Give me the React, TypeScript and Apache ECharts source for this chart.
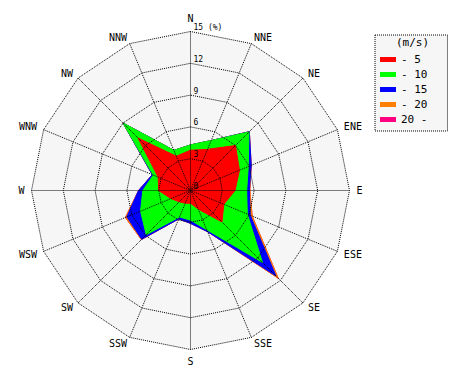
import React, { useEffect, useRef } from "react";
import * as echarts from "echarts";

const directions = ["N", "NNE", "NE", "ENE", "E", "ESE", "SE", "SSE", "S", "SSW", "SW", "WSW", "W", "WNW", "NW", "NNW"];
const speedClasses = ["- 5", "- 10", "- 15", "- 20", "20 -"];
const classColors = ["#ff0000", "#00ff00", "#0000ff", "#ff8000", "#ff0080"];
const radialTicks = [0, 3, 6, 9, 12, 15];

// frequency (%) per speed class, per direction (N, NNE, ... NNW)
const speed5 = [3.8, 4.2, 6.0, 5.0, 4.2, 3.4, 4.2, 1.9, 1.2, 1.3, 1.5, 2.0, 3.0, 3.3, 7.0, 3.5];
const speed10 = [0.5, 0.9, 1.8, 0.9, 1.1, 2.4, 5.4, 2.1, 1.6, 1.4, 4.4, 3.1, 1.5, 0.5, 2.0, 0.6];
const speed15 = [0.0, 0.0, 0.05, 0.3, 0.25, 0.3, 1.8, 0.2, 0.3, 0.2, 0.6, 1.4, 0.4, 0.1, 0.0, 0.0];
const speed20 = [0.0, 0.0, 0.0, 0.0, 0.05, 0.2, 0.3, 0.0, 0.0, 0.0, 0.05, 0.15, 0.0, 0.0, 0.0, 0.0];
const speed20plus = [0, 0, 0, 0, 0, 0, 0, 0, 0, 0, 0, 0, 0, 0, 0, 0];

const classValues = [speed5, speed10, speed15, speed20, speed20plus];

export default function App() {
  const ref = useRef<HTMLDivElement>(null);
  useEffect(() => {
    if (!ref.current) return;
    const chart = echarts.init(ref.current, undefined, { renderer: "svg" });
    const n = directions.length;
    // radar places indicators counter-clockwise; reorder so compass runs clockwise
    const order = [0];
    for (let i = n - 1; i >= 1; i--) order.push(i);

    const cumulative = classValues.map((_, k) =>
      directions.map((_, i) => {
        let s = 0;
        for (let j = 0; j <= k; j++) s += classValues[j][i];
        return +s.toFixed(3);
      })
    );

    const maxTick = radialTicks[radialTicks.length - 1];
    const font = "DejaVu Sans Mono";
    const makeIndicator = (withLabels: boolean) =>
      order.map((i, idx) => ({
        name: directions[i],
        min: radialTicks[0],
        max: maxTick,
        ...(withLabels && idx === 0
          ? {
              axisLabel: {
                show: true,
                color: "#000",
                fontSize: 8,
                fontFamily: font,
                margin: -3,
                align: "left",
                verticalAlign: "bottom",
                formatter: (v: number) => (v === maxTick ? v + " (%)" : String(v)),
              },
            }
          : {}),
      }));

    const dataItems = classValues
      .map((_, k) => ({
        name: speedClasses[k],
        value: order.map((i) => cumulative[k][i]),
        itemStyle: { color: classColors[k] },
        lineStyle: { color: classColors[k], width: 1 },
        areaStyle: { color: classColors[k], opacity: 1 },
        symbol: "none",
      }))
      .reverse();

    const center = [182.5, 182.5];
    const dotted = { color: "#000", type: [1, 1], width: 1 };

    chart.setOption({
      animation: false,
      title: {
        text: "(m/s)",
        left: 388,
        top: 29,
        padding: 0,
        textStyle: { fontSize: 11, fontWeight: "normal", fontFamily: font, color: "#000" },
      },
      legend: {
        data: speedClasses,
        orient: "vertical",
        left: 367,
        top: 27,
        padding: [18, 20, 5, 5],
        itemWidth: 16,
        itemHeight: 5,
        itemGap: 2,
        icon: "rect",
        borderColor: "#000",
        borderWidth: 1,
        borderType: "dotted",
        backgroundColor: "#f6f6f6",
        selectedMode: false,
        textStyle: { fontSize: 11, fontFamily: font, color: "#000", lineHeight: 13 },
      },
      polar: { center, radius: 159, z: 5 },
      angleAxis: {
        type: "category",
        data: directions,
        boundaryGap: false,
        startAngle: 90,
        clockwise: true,
        z: 5,
        axisLine: { show: false },
        axisTick: { show: false },
        axisLabel: { show: false },
        splitLine: { show: true, lineStyle: dotted },
        splitArea: { show: false },
      },
      radiusAxis: {
        min: radialTicks[0],
        max: maxTick,
        interval: radialTicks[1] - radialTicks[0],
        z: 5,
        axisLine: { show: false },
        axisTick: { show: false },
        axisLabel: { show: false },
        splitLine: { show: false },
        splitArea: { show: false },
      },
      radar: [
        {
          center,
          radius: 159,
          startAngle: 90,
          splitNumber: radialTicks.length - 1,
          shape: "polygon",
          indicator: makeIndicator(false),
          z: 0,
          axisName: { show: false },
          axisLine: { show: false },
          axisTick: { show: false },
          axisLabel: { show: false },
          splitLine: { show: false },
          splitArea: { show: true, areaStyle: { color: ["#f6f6f6"] } },
        },
        {
          center,
          radius: 159,
          startAngle: 90,
          splitNumber: radialTicks.length - 1,
          shape: "polygon",
          indicator: makeIndicator(true),
          z: 5,
          nameGap: 7,
          axisName: { color: "#000", fontSize: 10, fontFamily: font },
          axisLine: { show: false },
          axisTick: { show: false },
          axisLabel: { show: false },
          splitLine: { show: true, lineStyle: dotted },
          splitArea: { show: false },
        },
      ],
      series: [
        {
          type: "radar",
          radarIndex: 0,
          data: dataItems,
          z: 2,
        },
      ],
    });
    return () => chart.dispose();
  }, []);
  return <div ref={ref} style={{ width: 454, height: 364 }} />;
}
